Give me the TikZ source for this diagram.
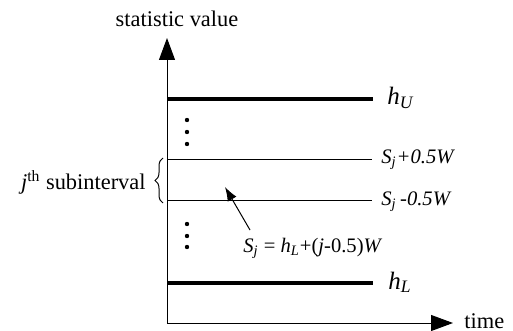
\documentclass[tikz,border=0pt]{standalone}
\usepackage{fontspec}
\setmainfont{Liberation Serif}
\usetikzlibrary{arrows.meta,decorations.pathreplacing}
\begin{document}
\begin{tikzpicture}[x=0.5pt,y=-0.5pt,
  axis/.style={line width=0.5pt,-{Triangle[length=11pt,width=8pt]}},
  thickline/.style={line width=1.6pt},
  thinline/.style={line width=0.5pt},
  lbl/.style={inner sep=0pt,anchor=west,font=\fontsize{10.3}{12}\selectfont},
  hlbl/.style={inner sep=0pt,anchor=base west,font=\fontsize{12.5}{15}\selectfont},
  txt/.style={inner sep=0pt,font=\fontsize{11.2}{13}\selectfont},
  dotm/.style={circle,fill,inner sep=0pt,minimum size=2.2pt}]
\useasboundingbox (0,0) rectangle (513,331);
% axes
\coordinate (O) at (167,323);
\coordinate (Ytop) at (167,38);
\coordinate (Xend) at (453,323);
\draw[axis] (O) -- (Ytop);
\draw[axis] (O) -- (Xend);
\node[txt,anchor=base] (yl) at (177,27) {statistic value};
\node[txt,anchor=base west] (xl) at (464,328) {time};
% level lines
\coordinate (hUa) at (167,99); \coordinate (hUb) at (373,99);
\coordinate (Spa) at (167,159.5); \coordinate (Spb) at (372,159.5);
\coordinate (Sma) at (167,200.5); \coordinate (Smb) at (372,200.5);
\coordinate (hLa) at (167,283); \coordinate (hLb) at (373,283);
\draw[thickline] (hUa) -- (hUb);
\draw[thinline] (Spa) -- (Spb);
\draw[thinline] (Sma) -- (Smb);
\draw[thickline] (hLa) -- (hLb);
\node[hlbl] (hU) at (387,105) {\textit{h}\textsubscript{\textit{U}}};
\node[lbl] (Sp) at (381,160) {\textit{S}\textsubscript{\textit{j}}\textit{+0.5W}};
\node[lbl] (Sm) at (381,202) {\textit{S}\textsubscript{\textit{j}}\,\textit{-0.5W}};
\node[hlbl] (hL) at (388,289) {\textit{h}\textsubscript{\textit{L}}};
% dots
\node[dotm] (d1) at (187,120) {};
\node[dotm] (d2) at (187,132) {};
\node[dotm] (d3) at (187,144) {};
\node[dotm] (d4) at (187,224) {};
\node[dotm] (d5) at (187,236) {};
\node[dotm] (d6) at (187,247) {};
% brace
\coordinate (Bb) at (163,203);
\coordinate (Bt) at (163,158);
\draw[line width=0.5pt,decorate,decoration={brace,amplitude=4pt}] (Bb) -- (Bt);
\node[txt,anchor=east] (sub) at (146,182) {\textit{j}\textsuperscript{th} subinterval};
% Sj annotation
\node[lbl,anchor=base west] (Sj) at (243,252) {\textit{S}\textsubscript{\textit{j}} = \textit{h}\textsubscript{\textit{L}}+(\textit{j}-0.5)\textit{W}};
\coordinate (At) at (250,230);
\coordinate (Ah) at (225,187);
\draw[line width=0.5pt,-{Latex[length=7pt,width=5pt]}] (At) -- (Ah);
\end{tikzpicture}
\end{document}
